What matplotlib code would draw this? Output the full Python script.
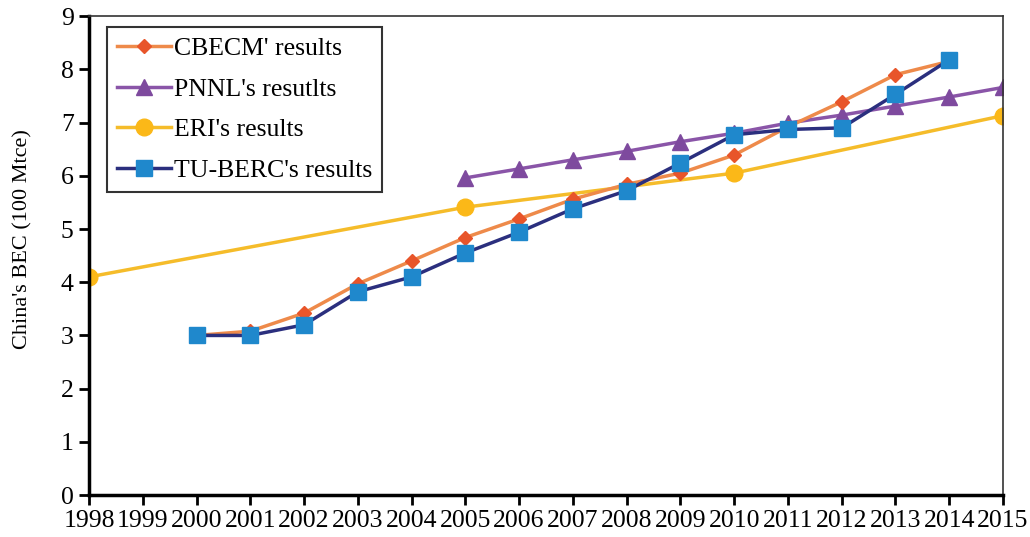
import matplotlib.pyplot as plt

# data
years_cbecm = [2000, 2001, 2002, 2003, 2004, 2005, 2006, 2007, 2008, 2009, 2010, 2011, 2012, 2013, 2014]
cbecm = [3.0, 3.08, 3.42, 3.97, 4.40, 4.84, 5.19, 5.56, 5.84, 6.05, 6.39, 6.92, 7.39, 7.90, 8.15]

years_pnnl = [2005, 2006, 2007, 2008, 2009, 2010, 2011, 2012, 2013, 2014, 2015]
pnnl = [5.96, 6.13, 6.30, 6.46, 6.64, 6.80, 6.99, 7.14, 7.31, 7.48, 7.66]

years_eri = [1998, 2005, 2010, 2015]
eri = [4.10, 5.41, 6.05, 7.13]

years_tu = [2000, 2001, 2002, 2003, 2004, 2005, 2006, 2007, 2008, 2009, 2010, 2011, 2012, 2013, 2014]
tu_berc = [3.0, 3.0, 3.2, 3.82, 4.10, 4.55, 4.94, 5.38, 5.72, 6.24, 6.77, 6.87, 6.90, 7.53, 8.18]

xticks = list(range(1998, 2016))
yticks = list(range(0, 10))

plt.rcParams.update({
    "font.family": "serif",
    "font.serif": ["Liberation Serif", "DejaVu Serif"],
})

fig = plt.figure(figsize=(10.3, 5.37), dpi=100)
ax = fig.add_axes([0.0864, 0.078, 0.8874, 0.892])

ax.plot(years_cbecm, cbecm, color="#EE8A4A", linewidth=2.5, marker="D",
        markersize=7, markerfacecolor="#E8552A", markeredgecolor="#E8552A",
        label="CBECM' results", zorder=3)
ax.plot(years_pnnl, pnnl, color="#8A55A8", linewidth=2.5, marker="^",
        markersize=11, markerfacecolor="#7E4A9E", markeredgecolor="#7E4A9E",
        label="PNNL's resutlts", zorder=2)
ax.plot(years_eri, eri, color="#F5BC2A", linewidth=2.5, marker="o",
        markersize=12, markerfacecolor="#FBB818", markeredgecolor="#FBB818",
        label="ERI's results", zorder=2)
ax.plot(years_tu, tu_berc, color="#2B2F7E", linewidth=2.5, marker="s",
        markersize=12, markerfacecolor="#1F88CC", markeredgecolor="#1F88CC",
        label="TU-BERC's results", zorder=4)

ax.set_xlim(1998, 2015)
ax.set_ylim(0, 9)
ax.set_xticks(xticks)
ax.set_xticklabels([str(y) for y in xticks])
ax.set_yticks(yticks)
ax.tick_params(axis="both", direction="out", length=7, width=2, labelsize=18.5, pad=4)
ax.set_ylabel("China's BEC (100 Mtce)", fontsize=16)
ax.yaxis.set_label_coords(-0.062, 0.534)

ax.spines["left"].set_linewidth(2.5)
ax.spines["bottom"].set_linewidth(2.5)
ax.spines["top"].set_linewidth(1.2)
ax.spines["right"].set_linewidth(1.2)
ax.spines["top"].set_color("#333333")
ax.spines["right"].set_color("#333333")

leg = ax.legend(loc="upper left", bbox_to_anchor=(0.0197, 0.977), fontsize=18.5,
                frameon=True, fancybox=False, edgecolor="black",
                handlelength=2.1, handletextpad=0.1, borderpad=0.4,
                borderaxespad=0, labelspacing=0.68)
leg.get_frame().set_linewidth(1.5)

fig.savefig("out.png", dpi=100)
